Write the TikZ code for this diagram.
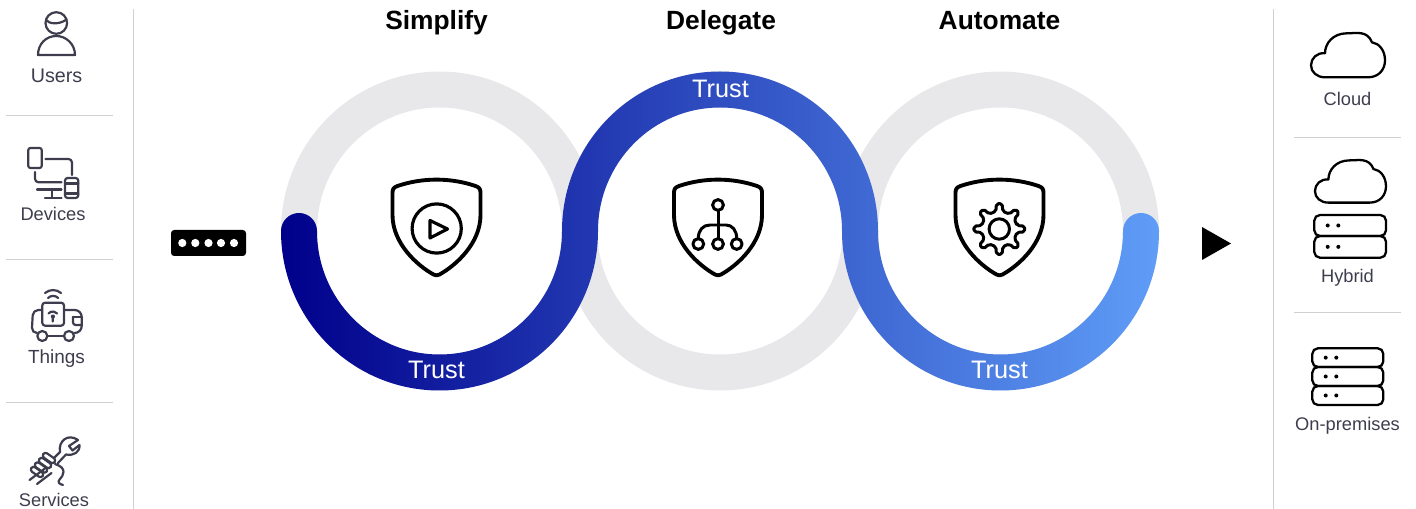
\documentclass[tikz,border=0pt]{standalone}
\usepackage{fontspec}
\setmainfont{Liberation Sans}
\definecolor{ringgrey}{HTML}{E8E8EB}
\definecolor{rulegrey}{HTML}{D0D0D3}
\definecolor{slate}{HTML}{3D3D4E}
\definecolor{trustleft}{HTML}{00008B}
\definecolor{trustright}{HTML}{5F9DF7}
\tikzset{
	titlelabel/.style={anchor=base, font=\fontsize{15}{16}\selectfont\bfseries, text=black},
	trustlabel/.style={anchor=base, font=\fontsize{14.4}{16}\selectfont, text=white},
	sidelabel/.style={anchor=base, font=\fontsize{10.4}{12}\selectfont, text=slate},
	sideline/.style={line width=0.55pt, color=rulegrey},
	thinicon/.style={line width=1.25pt, color=slate, line cap=round, line join=round},
	boldicon/.style={line width=2.2pt, color=black, line cap=round, line join=round},
	rackicon/.style={line width=1.3pt, color=black, rounded corners=3.2pt},
}
\def\ringgrey(#1){\draw[line width=0.72cm, color=ringgrey] (#1) ellipse (140.5 and 141.5);}
\def\shieldicon(#1){\draw[boldicon, shift={(#1)}] (-44,-36) .. controls (-44,-40) and (-43,-41.5) .. (-39,-43) .. controls (-14,-51.5) and (14,-51.5) .. (39,-43) .. controls (43,-41.5) and (44,-40) .. (44,-36) -- (44,-14) .. controls (44,14) and (20,36) .. (3,45.5) .. controls (1,46.7) and (-1,46.7) .. (-3,45.5) .. controls (-20,36) and (-44,14) .. (-44,-14) -- cycle;}
\def\cloudicon[#1](#2){\draw[line width=1.3pt, line join=round, shift={(#2)}, scale=#1] (-22,22) -- (21,22) .. controls (32,22) and (38,14) .. (38,5) .. controls (38,-5) and (32,-12) .. (25,-13) .. controls (20,-25) and (10,-22) .. (0,-22) .. controls (-14,-22) and (-22,-12) .. (-22,-2) .. controls (-30,-3) and (-36,3) .. (-36,10) .. controls (-36,17) and (-30,22) .. (-22,22) -- cycle;}
\def\rackbar(#1,#2)(#3,#4){\draw[rackicon] (#1,#2) rectangle (#3,#4);
	\fill ({#1+13.4},{(#2+#4)/2}) circle (2);
	\fill ({#1+24},{(#2+#4)/2}) circle (2);}

\begin{document}
\begin{tikzpicture}[x=0.02cm, y=-0.02cm]
	%%%%% START %%%%%
	\useasboundingbox (0,0) rectangle (1416,509);

	\draw[sideline] (133.5,9) -- (133.5,509);
	\draw[sideline] (1273,9) -- (1273,509);
	\draw[sideline] (6,115.5) -- (113,115.5);
	\draw[sideline] (6,259) -- (113,259);
	\draw[sideline] (6,402.5) -- (113,402.5);
	\draw[sideline] (1294,137) -- (1401,137);
	\draw[sideline] (1294,312.5) -- (1401,312.5);

	\node[titlelabel] (simplify) at (436.5,29.5) {Simplify};
	\node[titlelabel] (delegate) at (721,29.5) {Delegate};
	\node[titlelabel] (automate) at (999.5,29.5) {Automate};

	% rings
	\ringgrey(439.5,231)
	\ringgrey(720,231)
	\ringgrey(1000.5,231)

	\shade[left color=trustleft, right color=trustright] (281,231)
		arc (180:0:158.5 and 159.5) arc (180:360:122 and 123.5)
		arc (180:0:158.5 and 159.5) arc (0:-180:18)
		arc (0:180:122.5 and 123.5) arc (360:180:158 and 159.5)
		arc (0:180:122.5 and 123.5) arc (0:-180:18) -- cycle;

	\node[trustlabel] (trust1) at (436.5,378.5) {Trust};
	\node[trustlabel] (trust2) at (720.5,97.5) {Trust};
	\node[trustlabel] (trust3) at (999.5,378.5) {Trust};

	% token and arrow
	\fill[rounded corners=1.8pt] (171,230) rectangle (246,256);
	\foreach \dotx in {182.3,195.3,208.5,221,234}
		\fill[white] (\dotx,243) circle (4.1);
	\fill (1202,227) -- (1231,243.5) -- (1202,260) -- cycle;

	% shields
	\shieldicon(436.5,229)
	\draw[boldicon, line width=1.8pt] (436.7,228.5) circle (24.6);
	\draw[boldicon, line width=1.8pt] (430,220.5) -- (447.5,229) -- (430,238) -- cycle;

	\shieldicon(718,229)
	\draw[boldicon, line width=1.7pt] (718,205) circle (5.4);
	\draw[boldicon, line width=1.7pt] (698.3,244) circle (5.4);
	\draw[boldicon, line width=1.7pt] (718,244) circle (5.4);
	\draw[boldicon, line width=1.7pt] (736.7,244) circle (5.4);
	\draw[boldicon, line width=1.7pt] (718,210.4) -- (718,238.6);
	\draw[boldicon, line width=1.7pt] (698.3,238.6) .. controls (698.3,230) and (703,225) .. (710,225) -- (726,225) .. controls (732,225) and (736.7,230) .. (736.7,238.6);

	\shieldicon(999.5,229)
	\draw[boldicon, line width=1.7pt] (999.3,229) circle (10.2);
	\draw[boldicon, line width=1.7pt, rounded corners=1.1pt, shift={(999.3,229)}] (-11:18)
		\foreach \gearangle in {0,45,...,315} {
			-- ({\gearangle-6.5}:25.5) -- ({\gearangle+6.5}:25.5) -- ({\gearangle+11}:18) -- ({\gearangle+34}:18)
		} -- cycle;

	% users
	\draw[thinicon] (56.3,23) circle (10.8);
	\draw[thinicon] (46,20) .. controls (49,24) and (59,25) .. (66.5,19.5);
	\draw[thinicon] (38,55) .. controls (38,44) and (46,36) .. (56.3,36) .. controls (66,36) and (75,44) .. (75,55) -- cycle;
	\node[sidelabel, font=\fontsize{11.2}{12}\selectfont] (users) at (56.5,83) {Users};

	% devices
	\draw[thinicon, rounded corners=1.2pt] (28.3,148) rectangle (41.7,168);
	\draw[thinicon, rounded corners=2pt] (45.5,159) -- (72,159) -- (72,175);
	\draw[thinicon, rounded corners=2pt] (35,172) -- (35,182.3) -- (61.5,182.3);
	\draw[thinicon] (37,189.5) -- (61.5,189.5);
	\draw[thinicon] (51.7,190) -- (51.7,197.5);
	\draw[thinicon] (45,198) -- (61.5,198);
	\draw[thinicon, rounded corners=1.5pt] (65,178) rectangle (78.3,198);
	\draw[thinicon] (65,183.5) -- (78.3,183.5);
	\draw[thinicon] (65,193.5) -- (78.3,193.5);
	\node[sidelabel] (devices) at (53,221) {Devices};

	% things
	\draw[thinicon, rounded corners=1.6pt] (42.3,302.7) rectangle (64,325.7);
	\draw[thinicon, rounded corners=3pt] (41,310) -- (33,310) -- (31.7,333) -- (37,333);
	\draw[thinicon] (48,336) -- (63.5,336);
	\draw[thinicon, rounded corners=4pt] (65.5,310) -- (81.7,310) -- (81.7,333) -- (75,333);
	\draw[thinicon] (42.3,336) circle (5);
	\draw[thinicon] (69,336) circle (5);
	\draw[thinicon] (73,317) -- (81.7,317);
	\draw[thinicon, rounded corners=1.5pt] (73,317) -- (73,325) -- (81.7,325);
	\draw[thinicon] (52.8,316.5) circle (1.2) (52.8,317.7) -- (52.8,321.5);
	\draw[thinicon] (48.5,313.5) arc (-140:-40:5.6);
	\draw[thinicon] (48,298) arc (-135:-45:7.2);
	\draw[thinicon] (45,293) arc (-130:-50:12.5);
	\node[sidelabel, font=\fontsize{10.8}{12}\selectfont] (things) at (56.5,364) {Things};

	% services
	\draw[thinicon] (78,440) .. controls (68,433) and (58,441) .. (60,452) -- (53,459);
	\draw[thinicon] (78,440) -- (69,446) -- (72.5,450.5) -- (79.5,445) .. controls (80,452) and (74,456) .. (66,454.5) -- (58,463);
	\foreach \fingerx/\fingery in {49/458, 45/463, 41/467.5, 37/472}
		\draw[thinicon, rounded corners=1.6pt, fill=white, shift={(\fingerx,\fingery)}, rotate=-35] (-7,-2.7) rectangle (7,2.7);
	\draw[thinicon] (29.5,480) -- (45,468.5);
	\draw[thinicon] (37,484) -- (51.5,473);
	\draw[thinicon] (55,464) .. controls (68,468) and (63,476) .. (60,479) .. controls (57,482) and (59,484) .. (63,485);
	\node[sidelabel] (services) at (54,506) {Services};

	% deployment targets
	\cloudicon[1](1347,55.3)
	\node[sidelabel] (cloud) at (1347.5,106) {Cloud};
	\cloudicon[0.96](1349.5,181.5)
	\rackbar(1314.3,215)(1386,236)
	\rackbar(1314.3,236)(1386,257.7)
	\node[sidelabel] (hybrid) at (1347.5,283) {Hybrid};
	\rackbar(1312.3,348.3)(1383.3,367)
	\rackbar(1312.3,367)(1383.3,386)
	\rackbar(1312.3,386)(1383.3,405)
	\node[sidelabel] (onprem) at (1347.5,431) {On-premises};
	%%%%% END %%%%%
\end{tikzpicture}
\end{document}
